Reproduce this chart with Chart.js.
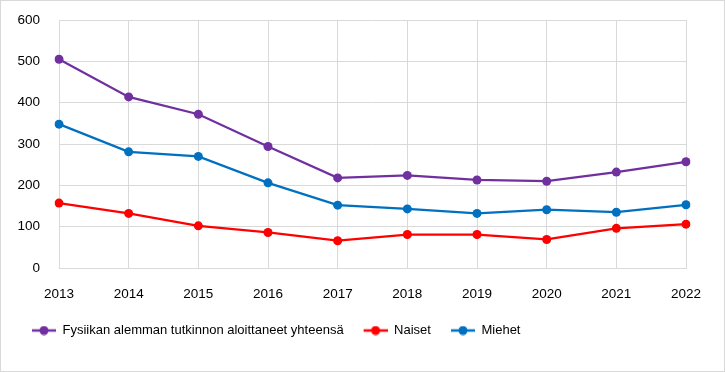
<!DOCTYPE html>
<html>
<head>
<meta charset="utf-8">
<script src="https://cdn.jsdelivr.net/npm/chart.js@4"></script>
<style>
  html, body { margin: 0; padding: 0; background: #fff; }
  #wrap { width: 725px; height: 372px; position: relative; }
</style>
</head>
<body>
<div id="wrap"><canvas id="chart" width="725" height="372"></canvas></div>
<script>
// data
const years = ["2013", "2014", "2015", "2016", "2017", "2018", "2019", "2020", "2021", "2022"];
const total = [505, 414, 372, 294, 218, 224, 213, 210, 232, 257];
const women = [157, 132, 102, 86, 66, 81, 81, 69, 96, 106];
const men = [348, 281, 270, 206, 152, 143, 132, 141, 135, 153];
const yTicks = [0, 100, 200, 300, 400, 500, 600];

const FONT = "'Liberation Sans', Arial, sans-serif";
const FSIZE = 13.5;

// little line-with-dot marker used in the legend (like the Excel one),
// with some empty room on its left so the items sit a bit apart
function legendMarker(color) {
  const c = document.createElement('canvas');
  c.width = 34;
  c.height = 10;
  const g = c.getContext('2d');
  g.strokeStyle = color;
  g.lineWidth = 2.5;
  g.beginPath();
  g.moveTo(10, 5);
  g.lineTo(34, 5);
  g.stroke();
  g.fillStyle = color;
  g.beginPath();
  g.arc(22, 5, 4.5, 0, Math.PI * 2);
  g.fill();
  return c;
}

function series(label, data, color) {
  return {
    label: label,
    data: data,
    borderColor: color,
    backgroundColor: color,
    borderWidth: 2.25,
    pointRadius: 4.5,
    pointHoverRadius: 4.5,
    pointBorderWidth: 0,
    pointStyle: 'circle',
    tension: 0,
  };
}

// white background + thin frame round the whole chart
const frame = {
  id: 'frame',
  beforeDraw(chart) {
    const ctx = chart.ctx;
    ctx.save();
    ctx.fillStyle = '#fff';
    ctx.fillRect(0, 0, chart.width, chart.height);
    ctx.strokeStyle = '#d9d9d9';
    ctx.lineWidth = 1;
    ctx.strokeRect(0.5, 0.5, chart.width - 1, chart.height - 1);
    ctx.restore();
  },
};

new Chart(document.getElementById('chart'), {
  type: 'line',
  data: {
    labels: years,
    datasets: [
      series('Fysiikan alemman tutkinnon aloittaneet yhteensä', total, '#7030A0'),
      series('Naiset', women, '#FF0000'),
      series('Miehet', men, '#0070C0'),
    ],
  },
  plugins: [frame],
  options: {
    responsive: false,
    animation: false,
    layout: { padding: { top: 20, right: 39, left: 12, bottom: 25 } },
    plugins: {
      tooltip: { enabled: false },
      legend: {
        position: 'bottom',
        align: 'start',
        labels: {
          usePointStyle: true,
          pointStyleWidth: 34,
          color: '#000',
          font: { family: FONT, size: 13 },
          padding: 10,
          generateLabels(chart) {
            return chart.data.datasets.map((d, i) => ({
              text: d.label,
              fillStyle: d.borderColor,
              strokeStyle: d.borderColor,
              lineWidth: 0,
              pointStyle: legendMarker(d.borderColor),
              fontColor: '#000',
              hidden: false,
              datasetIndex: i,
            }));
          },
        },
      },
    },
    scales: {
      x: {
        offset: false,
        afterFit(axis) { axis.height = 46; },
        grid: { color: '#d9d9d9', lineWidth: 1, drawTicks: false },
        border: { color: '#d9d9d9' },
        ticks: { color: '#000', font: { family: FONT, size: FSIZE }, padding: 18, maxRotation: 0, autoSkip: false },
      },
      y: {
        min: 0,
        max: 600,
        afterBuildTicks(axis) { axis.ticks = yTicks.map(v => ({ value: v })); },
        afterFit(axis) { axis.width = 47; },
        grid: { color: '#d9d9d9', lineWidth: 1, drawTicks: true, tickLength: 15, tickColor: 'rgba(0,0,0,0)' },
        border: { display: false },
        ticks: { color: '#000', font: { family: FONT, size: FSIZE }, padding: 4 },
      },
    },
  },
});
</script>
</body>
</html>
